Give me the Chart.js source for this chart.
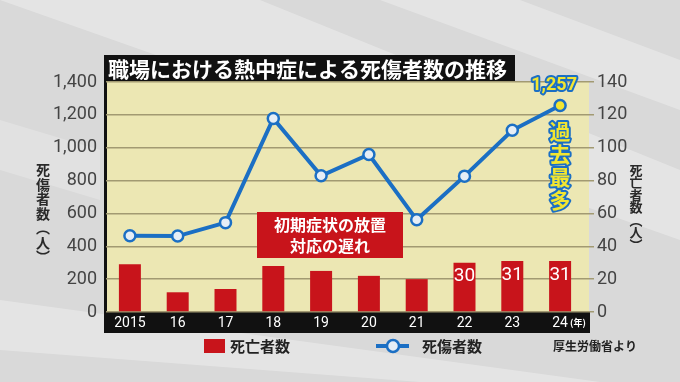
<!DOCTYPE html>
<html>
<head>
<meta charset="utf-8">
<script src="https://cdn.jsdelivr.net/npm/chart.js@4"></script>
<style>
  html, body { margin: 0; padding: 0; background: #dcdcdc; }
  #wrap { width: 680px; height: 382px; }
</style>
</head>
<body>
<div id="wrap"><canvas id="myChart" width="680" height="382"></canvas></div>
<script>
// data
let years = ["2015", "16", "17", "18", "19", "20", "21", "22", "23", "24"];
let deaths = [29, 12, 14, 28, 25, 22, 20, 30, 31, 31];           // 死亡者数 (right axis)
let casualties = [464, 462, 544, 1178, 829, 959, 561, 827, 1106, 1257]; // 死傷者数 (left axis)
let labeledBars = [7, 8, 9];   // bars that carry a number
let leftTicks = [0, 200, 400, 600, 800, 1000, 1200, 1400];
let rightTicks = [0, 20, 40, 60, 80, 100, 120, 140];

const JP = '"Noto Sans CJK JP", "Noto Sans", sans-serif';
const NUM = 'Roboto, "Liberation Sans", sans-serif';

// vertical text helper
function vText(ctx, chars, x, y, pitch) {
  for (let i = 0; i < chars.length; i++) {
    ctx.fillText(chars[i], x, y + i * pitch);
  }
}

function outlined(ctx, text, x, y, fill, stroke, lw) {
  ctx.lineJoin = "round";
  ctx.lineWidth = lw;
  ctx.strokeStyle = stroke;
  ctx.strokeText(text, x, y);
  ctx.fillStyle = fill;
  ctx.fillText(text, x, y);
}

let backPlugin = {
  id: "backPlugin",
  beforeDraw(chart) {
    let c = chart.ctx;
    let a = chart.chartArea;
    c.save();
    // grey background with light diagonal streaks
    c.fillStyle = "#d9d9d9";
    c.fillRect(0, 0, 680, 382);
    c.fillStyle = "rgba(255,255,255,0.3)";
    c.beginPath(); c.moveTo(0, 0); c.lineTo(260, 0); c.lineTo(680, 170); c.lineTo(680, 240); c.closePath(); c.fill();
    c.beginPath(); c.moveTo(380, 0); c.lineTo(520, 0); c.lineTo(680, 60); c.lineTo(680, 110); c.closePath(); c.fill();
    c.beginPath(); c.moveTo(0, 300); c.lineTo(0, 350); c.lineTo(420, 382); c.lineTo(600, 382); c.closePath(); c.fill();
    c.fillStyle = "rgba(255,255,255,0.22)";
    c.beginPath(); c.moveTo(0, 120); c.lineTo(0, 170); c.lineTo(100, 200); c.lineTo(100, 150); c.closePath(); c.fill();
    // plot area
    c.fillStyle = "#ece7b3";
    c.fillRect(a.left, a.top, 589 - a.left, a.bottom - a.top);
    // black frame: left edge and bottom band
    c.fillStyle = "#111";
    c.fillRect(104, 55, 3, a.bottom - 55);
    c.fillRect(104, a.bottom, 590 - 104, 21);
    // title box
    c.fillRect(104, 55, 411, 27);
    c.fillStyle = "#fff";
    c.font = "bold 21px " + JP;
    c.textBaseline = "middle";
    c.textAlign = "left";
    c.fillText("職場における熱中症による死傷者数の推移", 108, 69, 404);
    c.restore();
  },
  afterDraw(chart) {
    let c = chart.ctx;
    let a = chart.chartArea;
    c.save();
    // numbers in bars
    let barMeta = chart.getDatasetMeta(0);
    c.fillStyle = "#fff";
    c.font = "19px " + NUM;
    c.textAlign = "center";
    c.textBaseline = "middle";
    labeledBars.forEach(function (i) {
      let el = barMeta.data[i];
      c.fillText(String(deaths[i]), el.x, el.y + 14);
    });
    // annotation box
    c.fillStyle = "#c8141b";
    c.fillRect(257, 212, 146, 46);
    c.fillStyle = "#fff";
    c.font = "bold 16px " + JP;
    c.fillText("初期症状の放置", 330, 225);
    c.fillText("対応の遅れ", 330, 246);
    // record label
    let lineMeta = chart.getDatasetMeta(1);
    let last = lineMeta.data[lineMeta.data.length - 1];
    c.font = "bold 18px " + NUM;
    outlined(c, "1,257", last.x - 6, last.y - 20, "#f2e531", "#1b6fc4", 4);
    c.font = "bold 21px " + JP;
    let rec = ["過", "去", "最", "多"];
    rec.forEach(function (ch, i) {
      outlined(c, ch, last.x, last.y + 26 + i * 23, "#f2e531", "#1b6fc4", 4);
    });
    // axis titles
    c.fillStyle = "#2a2a2a";
    c.font = "bold 14px " + JP;
    vText(c, ["死", "傷", "者", "数", "︵", "人", "︶"], 43, 170, 14.5);
    c.font = "bold 13px " + JP;
    vText(c, ["死", "亡", "者", "数", "︵", "人", "︶"], 636, 170, 12.5);
    // year unit
    c.fillStyle = "#fff";
    c.font = "bold 9px " + JP;
    c.fillText("(年)", 578, a.bottom + 11);
    // legend
    c.fillStyle = "#c8141b";
    c.fillRect(204, 339, 21, 14);
    c.fillStyle = "#222";
    c.font = "bold 15px " + JP;
    c.textAlign = "left";
    c.fillText("死亡者数", 230, 346);
    c.fillText("死傷者数", 422, 346);
    c.strokeStyle = "#1b6fc4";
    c.lineWidth = 4;
    c.beginPath(); c.moveTo(376, 346); c.lineTo(409, 346); c.stroke();
    c.fillStyle = "#e6eef6";
    c.lineWidth = 2.5;
    c.beginPath(); c.arc(393, 346, 6, 0, Math.PI * 2); c.fill(); c.stroke();
    c.fillStyle = "#222";
    c.font = "bold 12px " + JP;
    c.fillText("厚生労働省より", 553, 346);
    c.restore();
  },
};

let ctx = document.getElementById("myChart").getContext("2d");

let data = {
  labels: years,
  datasets: [
    {
      type: "bar",
      label: "死亡者数",
      data: deaths,
      yAxisID: "y1",
      backgroundColor: "#c8141b",
      barPercentage: 0.46,
      categoryPercentage: 1,
      order: 2,
    },
    {
      type: "line",
      label: "死傷者数",
      data: casualties,
      yAxisID: "y",
      borderColor: "#1b6fc4",
      borderWidth: 4,
      tension: 0,
      pointRadius: 5.5,
      pointBorderWidth: 2.5,
      pointBorderColor: "#1b6fc4",
      pointBackgroundColor: casualties.map((v, i) => (i === casualties.length - 1 ? "#f2e531" : "#e6eef6")),
      order: 1,
    },
  ],
};

let options = {
  responsive: false,
  animation: false,
  devicePixelRatio: 1,
  layout: { padding: { left: 0, right: 0, top: 82, bottom: 49 } },
  plugins: { legend: { display: false }, tooltip: { enabled: false } },
  scales: {
    x: {
      grid: { display: false, drawTicks: false },
      border: { display: false },
      ticks: { color: "#fff", font: { family: NUM, size: 14 }, padding: 3, maxRotation: 0 },
      afterFit(scale) { scale.height = 21; },
    },
    y: {
      position: "left",
      min: 0,
      max: 1400,
      afterBuildTicks(scale) { scale.ticks = leftTicks.map((v) => ({ value: v })); },
      grid: { color: "#a29a72", lineWidth: 1.5, drawTicks: false },
      border: { display: false },
      ticks: {
        color: "#444",
        padding: 9,
        font: { family: NUM, size: 18 },
        callback: (v) => v.toLocaleString("en-US"),
      },
      afterFit(scale) { scale.width = 106; },
    },
    y1: {
      position: "right",
      min: 0,
      max: 140,
      afterBuildTicks(scale) { scale.ticks = rightTicks.map((v) => ({ value: v })); },
      grid: { drawOnChartArea: false, color: "#a29a72", lineWidth: 1.5, tickLength: 10 },
      border: { display: false },
      ticks: { color: "#444", padding: 3, font: { family: NUM, size: 18 } },
      afterFit(scale) { scale.width = 96; },
    },
  },
};

let myChart = new Chart(ctx, {
  data: data,
  options: options,
  plugins: [backPlugin],
});
</script>
</body>
</html>
